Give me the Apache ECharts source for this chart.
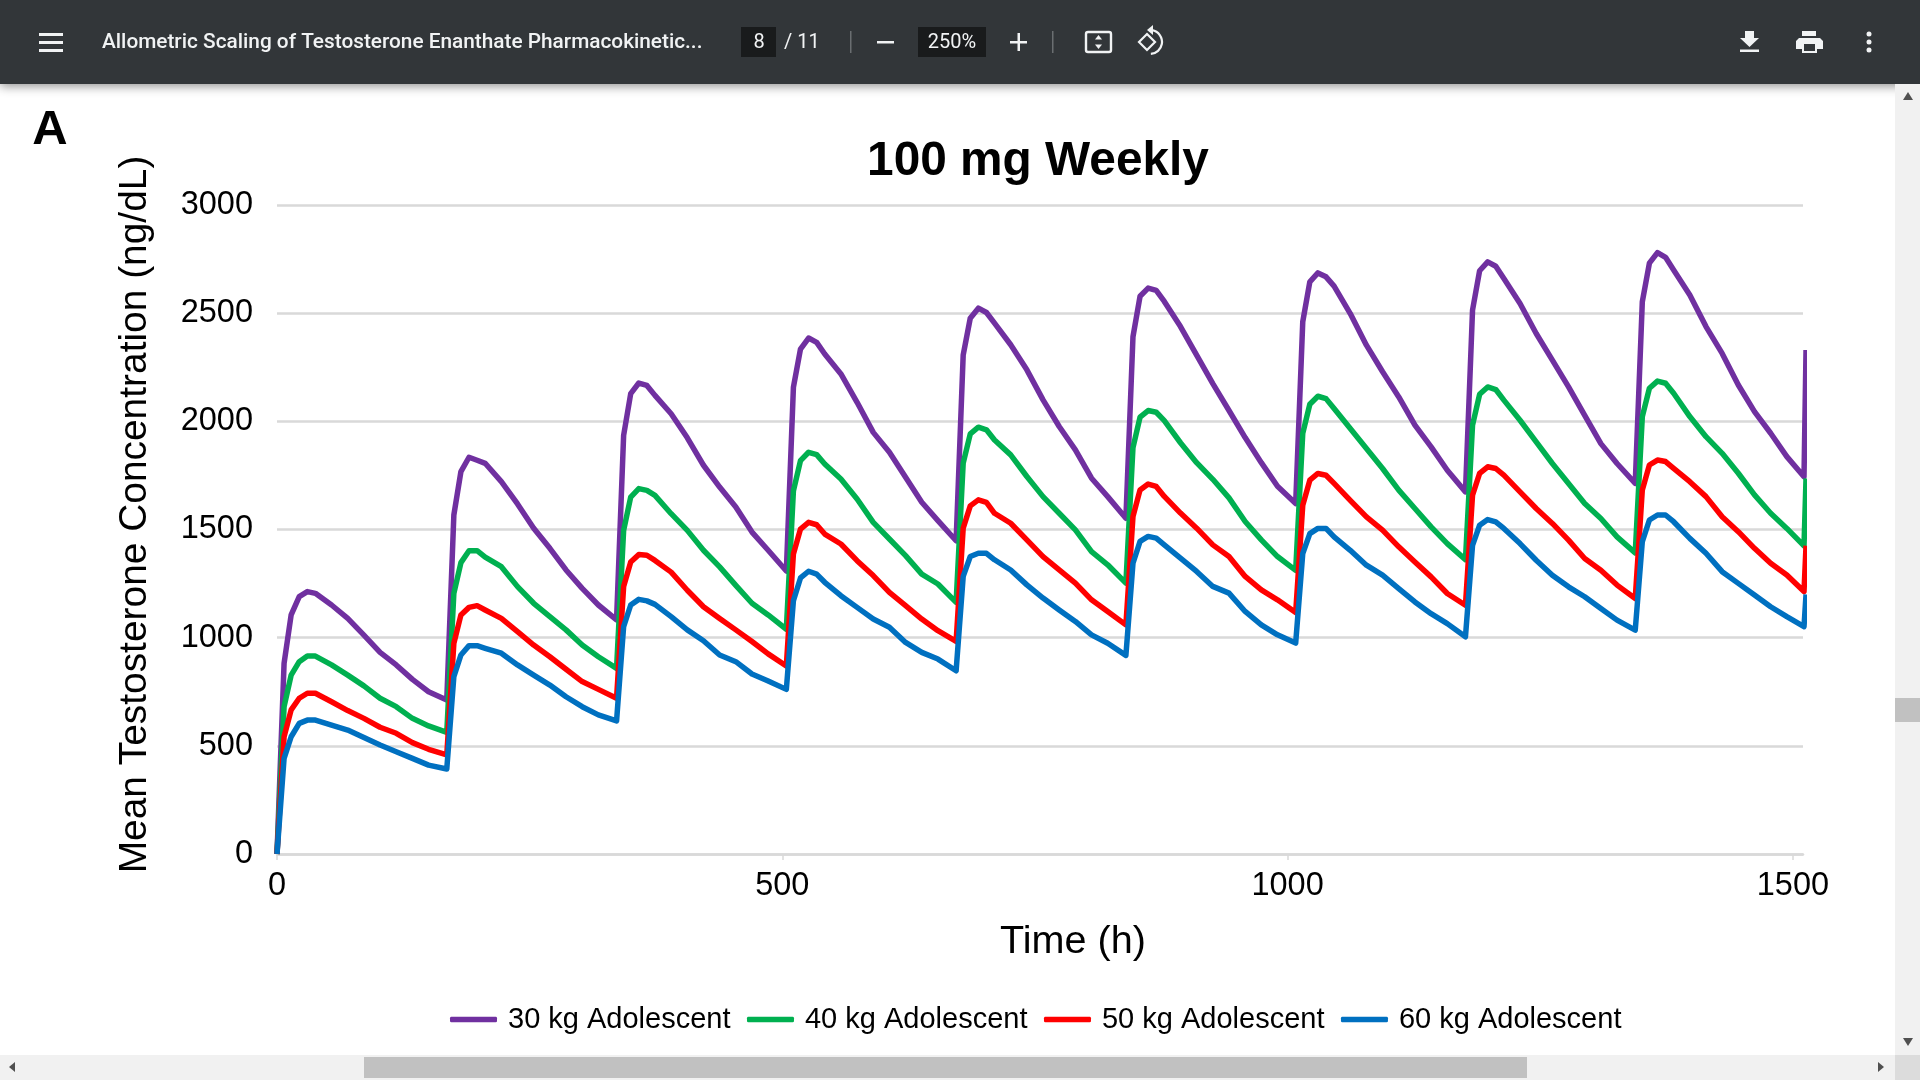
<!DOCTYPE html>
<html>
<head>
<meta charset="utf-8">
<title>100 mg Weekly</title>
<style>
	html, body { margin: 0; padding: 0; background: #fff; overflow: hidden; }
	#chart { width: 1920px; height: 1080px; }
</style>
<script src="https://cdn.jsdelivr.net/npm/echarts@6/dist/echarts.min.js"></script>
</head>
<body>
<div id="chart"></div>
<script>
//时间 (h)
var time_h = [0,
	7,14,22,30,38,54,70,86,102,118,134,150,168,
	175,182,190,198,206,222,238,254,270,286,302,318,336,
	343,350,358,366,374,390,406,422,438,454,470,486,504,
	511,518,526,534,542,558,574,590,606,622,638,654,672,
	679,686,694,702,710,726,742,758,774,790,806,822,840,
	847,854,862,870,878,894,910,926,942,958,974,990,1008,
	1015,1022,1030,1038,1046,1062,1078,1094,1110,1126,1142,1158,1176,
	1183,1190,1198,1206,1214,1230,1246,1262,1278,1294,1310,1326,1344,
	1351,1358,1366,1374,1382,1398,1414,1430,1446,1462,1478,1494,1511,
	1513];

//30 kg
var kg30 = [0,
	881,1105,1190,1213,1205,1151,1089,1012,932,874,807,750,712,
	1567,1768,1834,1820,1806,1721,1618,1506,1413,1313,1228,1151,1082,
	1935,2128,2177,2166,2120,2035,1924,1797,1696,1604,1488,1404,1308,
	2157,2334,2385,2365,2311,2219,2088,1949,1857,1741,1626,1541,1448,
	2307,2477,2523,2503,2454,2354,2238,2099,1976,1868,1737,1652,1552,
	2391,2578,2616,2605,2554,2438,2306,2174,2050,1925,1809,1700,1620,
	2460,2645,2686,2668,2625,2498,2352,2229,2113,1982,1882,1774,1674,
	2514,2696,2737,2717,2660,2545,2406,2283,2159,2028,1897,1805,1713,
	2553,2731,2780,2758,2700,2584,2438,2314,2168,2045,1945,1837,1744,
	2330];

//40 kg
var kg40 = [0,
	681,827,889,915,915,874,827,777,720,681,627,592,562,
	1205,1347,1402,1402,1372,1328,1236,1159,1097,1036,966,912,858,
	1496,1650,1689,1681,1658,1573,1496,1404,1327,1242,1159,1105,1039,
	1679,1818,1857,1846,1803,1733,1641,1533,1456,1379,1294,1248,1163,
	1807,1942,1973,1961,1914,1845,1745,1652,1575,1498,1398,1337,1252,
	1879,2019,2050,2042,2003,1901,1809,1732,1646,1537,1452,1375,1311,
	1944,2079,2116,2105,2059,1967,1874,1782,1682,1597,1512,1435,1361,
	1982,2125,2159,2147,2098,2005,1905,1805,1713,1620,1551,1466,1392,
	2022,2153,2186,2176,2130,2022,1929,1852,1760,1660,1575,1505,1424,
	1736];

//50 kg
var kg50 = [0,
	542,666,720,743,743,704,663,627,586,558,515,484,458,
	974,1105,1140,1148,1128,1089,1028,966,912,854,797,761,720,
	1236,1350,1384,1381,1357,1303,1219,1143,1089,1036,982,925,869,
	1387,1502,1533,1522,1479,1433,1356,1287,1209,1148,1086,1032,983,
	1506,1609,1637,1625,1575,1529,1452,1375,1313,1252,1175,1121,1059,
	1560,1683,1710,1699,1653,1576,1506,1429,1375,1283,1221,1175,1116,
	1612,1728,1759,1751,1713,1635,1558,1497,1420,1350,1281,1204,1150,
	1659,1759,1790,1782,1751,1674,1597,1528,1451,1366,1312,1243,1181,
	1683,1798,1821,1814,1783,1721,1652,1559,1490,1413,1344,1290,1213,
	1425];

//60 kg
var kg60 = [0,
	442,542,604,619,619,596,573,538,504,473,442,411,393,
	820,920,963,963,951,928,874,827,781,727,681,643,615,
	1051,1151,1177,1170,1154,1097,1036,986,920,889,832,800,761,
	1171,1276,1307,1294,1256,1194,1140,1086,1048,978,932,901,847,
	1283,1375,1390,1390,1360,1313,1244,1183,1128,1075,1013,974,918,
	1344,1445,1468,1460,1429,1368,1306,1237,1206,1121,1059,1013,975,
	1389,1481,1505,1505,1466,1404,1335,1289,1227,1165,1111,1065,1004,
	1427,1520,1546,1535,1505,1435,1358,1289,1235,1189,1135,1081,1035,
	1444,1544,1567,1567,1536,1459,1390,1305,1251,1197,1143,1097,1051,
	1200];

var series_names = ['30 kg Adolescent', '40 kg Adolescent', '50 kg Adolescent', '60 kg Adolescent'];
var series_colors = ['#7030A0', '#00B050', '#FF0000', '#0070C0'];
var series_values = [kg30, kg40, kg50, kg60];
var x_ticks = [0, 500, 1000, 1500];

var grid_color = '#d9d9d9';
var font_latin = '"Liberation Sans", Arial, sans-serif';
var bar_color = '#323639';

//图表系列
var chart_series = [];
for(var i = 0; i < series_names.length; i++) {
	var points = [];
	for(var a = 0; a < time_h.length; a++) {
		points.push([time_h[a], series_values[i][a]]);
	}
	chart_series.push({
		name: series_names[i],
		type: 'line',
		data: points,
		showSymbol: false,
		symbol: 'none',
		clip: false,
		smooth: false,
		itemStyle: { color: series_colors[i] },
		lineStyle: { color: series_colors[i], width: 5.5, join: 'round', cap: 'butt' }
	});
}

//工具栏文字
function bar_text(x, y, text, size, align, weight) {
	return {
		type: 'text',
		x: x,
		y: y,
		z: 20,
		style: {
			text: text,
			fill: '#f1f3f4',
			font: (weight || 400) + ' ' + size + 'px Roboto, sans-serif',
			textAlign: align,
			textVerticalAlign: 'middle'
		}
	};
}

function bar_rect(x, y, w, h, fill, r) {
	return {
		type: 'rect',
		z: 19,
		shape: { x: x, y: y, width: w, height: h, r: r || 0 },
		style: { fill: fill }
	};
}

//多边形图标
function bar_poly(pts, fill, stroke, width) {
	return {
		type: 'polygon',
		z: 20,
		shape: { points: pts },
		style: { fill: fill || 'none', stroke: stroke || 'none', lineWidth: width || 0 }
	};
}

//刻度文字不带千位分隔符
function plain_number(value) {
	return String(value);
}

var icon_white = '#f1f3f4';
var page_ui = [
	//顶部工具栏
	{
		type: 'rect',
		z: 18,
		shape: { x: 0, y: 0, width: 1920, height: 84 },
		style: { fill: bar_color, shadowBlur: 10, shadowColor: 'rgba(0,0,0,0.45)', shadowOffsetY: 2 }
	},
	bar_rect(39, 33, 24, 3, icon_white),
	bar_rect(39, 41, 24, 3, icon_white),
	bar_rect(39, 49, 24, 3, icon_white),
	bar_text(102, 43, 'Allometric Scaling of Testosterone Enanthate Pharmacokinetic...', 20.8, 'left', 500),
	bar_rect(741, 27, 35, 30, '#191b1c'),
	bar_text(759, 43, '8', 20, 'center'),
	bar_text(784, 43, '/ 11', 20, 'left'),
	bar_rect(850, 31, 1.5, 22, '#6a6e71'),
	bar_rect(877, 41, 17, 2.5, icon_white),
	bar_rect(918, 27, 68, 30, '#191b1c'),
	bar_text(952, 43, '250%', 20, 'center'),
	bar_rect(1010, 41, 17, 2.5, icon_white),
	bar_rect(1017.5, 33, 2.5, 18, icon_white),
	bar_rect(1052, 31, 1.5, 22, '#6a6e71'),
	//适合页面图标
	{
		type: 'rect',
		z: 20,
		shape: { x: 1086, y: 32, width: 25, height: 20, r: 2 },
		style: { fill: 'none', stroke: icon_white, lineWidth: 2.4 }
	},
	bar_poly([[1098.5, 35], [1102, 39.5], [1095, 39.5]], icon_white),
	bar_poly([[1098.5, 49], [1102, 44.5], [1095, 44.5]], icon_white),
	//旋转图标
	bar_poly([[1147, 34], [1155, 42], [1147, 50], [1139, 42]], 'none', icon_white, 2.2),
	{
		type: 'arc',
		z: 20,
		shape: { cx: 1150, cy: 42, r: 12, startAngle: -1.4, endAngle: 1.5 },
		style: { fill: 'none', stroke: icon_white, lineWidth: 2.2 }
	},
	bar_poly([[1153, 25], [1153, 35], [1147, 30]], icon_white),
	//下载图标
	bar_poly([[1745, 31], [1754, 31], [1754, 38], [1759, 38], [1749.5, 47], [1740, 38], [1745, 38]], icon_white),
	bar_rect(1740, 49.5, 19, 2.5, icon_white),
	//打印图标
	bar_poly([[1802, 31], [1816, 31], [1816, 36], [1802, 36]], icon_white),
	bar_poly([[1799, 38], [1820, 38], [1823, 41], [1823, 49], [1817, 49], [1817, 53], [1802, 53], [1802, 49], [1796, 49], [1796, 41]], icon_white),
	{ type: 'rect', z: 21, shape: { x: 1804, y: 44, width: 11, height: 7 }, style: { fill: bar_color } },
	//更多图标
	{ type: 'circle', z: 20, shape: { cx: 1869, cy: 34, r: 2.5 }, style: { fill: icon_white } },
	{ type: 'circle', z: 20, shape: { cx: 1869, cy: 42, r: 2.5 }, style: { fill: icon_white } },
	{ type: 'circle', z: 20, shape: { cx: 1869, cy: 50, r: 2.5 }, style: { fill: icon_white } },
	//滚动条
	bar_rect(1895, 84, 25, 971, '#f1f1f1'),
	bar_rect(1895, 698, 25, 24, '#c1c1c1'),
	bar_poly([[1908, 92], [1913, 100], [1903, 100]], '#505050'),
	bar_poly([[1908, 1046], [1913, 1038], [1903, 1038]], '#505050'),
	bar_rect(0, 1055, 1895, 25, '#f1f1f1'),
	bar_rect(1895, 1055, 25, 25, '#dcdcdc'),
	bar_rect(364, 1057, 1163, 21, '#c1c1c1'),
	bar_poly([[9, 1067], [15, 1062], [15, 1072]], '#505050'),
	bar_poly([[1884, 1067], [1878, 1062], [1878, 1072]], '#505050'),
	//图的标号
	{
		type: 'text',
		x: 50,
		y: 130,
		z: 5,
		style: {
			text: 'A',
			fill: '#000',
			font: '700 49px ' + font_latin,
			textAlign: 'center',
			textVerticalAlign: 'middle'
		}
	}
];

var myChart = echarts.init(document.getElementById('chart'));

var option = {
	animation: false,
	backgroundColor: '#fff',
	title: {
		text: '100 mg Weekly',
		left: 1033,
		top: 133,
		textAlign: 'center',
		textStyle: { fontFamily: font_latin, fontWeight: 700, fontSize: 47.8, color: '#000' }
	},
	legend: {
		left: 450,
		top: 1005,
		padding: 0,
		icon: 'roundRect',
		itemWidth: 47,
		itemHeight: 5.5,
		itemGap: 16.5,
		data: series_names,
		textStyle: { fontFamily: font_latin, fontSize: 29, color: '#000', padding: [0, 0, 0, 6] }
	},
	grid: {
		left: 277,
		right: 117,
		top: 205,
		bottom: 226,
		containLabel: false
	},
	xAxis: {
		type: 'value',
		min: 0,
		max: 1510,
		name: 'Time (h)',
		nameLocation: 'middle',
		nameGap: 68,
		nameTextStyle: { fontFamily: font_latin, fontSize: 39.6, color: '#000', padding: [0, 0, 0, 66] },
		axisLine: { show: true, onZero: false, lineStyle: { color: grid_color, width: 2.5 } },
		axisTick: { show: true, length: 6, customValues: x_ticks, lineStyle: { color: grid_color, width: 1.5 } },
		axisLabel: {
			customValues: x_ticks,
			formatter: plain_number,
			margin: 16,
			fontFamily: font_latin,
			fontSize: 32.5,
			color: '#000'
		},
		splitLine: { show: false }
	},
	yAxis: {
		type: 'value',
		min: 0,
		max: 3000,
		interval: 500,
		name: 'Mean Testosterone Concentration (ng/dL)',
		nameLocation: 'middle',
		nameGap: 122,
		nameTextStyle: { fontFamily: font_latin, fontSize: 38.9, color: '#000', padding: [0, 0, 0, 30] },
		axisLine: { show: false },
		axisTick: { show: false },
		axisLabel: {
			formatter: plain_number,
			margin: 24,
			padding: [8, 0, 0, 0],
			fontFamily: font_latin,
			fontSize: 32.5,
			color: '#000'
		},
		splitLine: { show: true, lineStyle: { color: grid_color, width: 2.5 } }
	},
	series: chart_series,
	graphic: { elements: page_ui }
};

myChart.setOption(option);
</script>
</body>
</html>
